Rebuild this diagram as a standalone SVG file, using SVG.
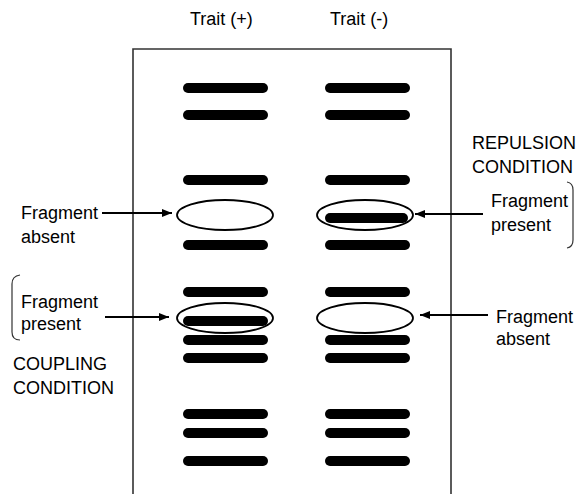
<svg xmlns="http://www.w3.org/2000/svg" width="579" height="494" viewBox="0 0 579 494">
<defs>
<style>
.t{font-family:"Liberation Sans",Arial,sans-serif;font-size:18px;fill:#000}
.band{fill:#000}
.ell{fill:none;stroke:#000;stroke-width:1.8}
.box{fill:none;stroke:#333;stroke-width:1.6}
.con{fill:none;stroke:#000;stroke-width:2}
.br{fill:none;stroke:#333;stroke-width:1.2}
</style>
<marker id="ah" viewBox="0 0 10 8" refX="10" refY="4" markerWidth="10" markerHeight="8" markerUnits="userSpaceOnUse" orient="auto">
<path d="M0,0 L10,4 L0,8 Z" fill="#000"/>
</marker>
</defs>
<rect width="579" height="494" fill="#fff"/>
<g id="gel">
<path class="box" d="M133,494 V49 H451 V494"/>
</g>
<g id="lane-plus">
<text class="t" x="190" y="25">Trait (+)</text>
<rect class="band" x="183" y="83" width="85" height="10" rx="5"/>
<rect class="band" x="183" y="110" width="85" height="10" rx="5"/>
<rect class="band" x="183" y="175" width="85" height="10" rx="5"/>
<rect class="band" x="183" y="240" width="85" height="10" rx="5"/>
<rect class="band" x="183" y="287" width="85" height="10" rx="5"/>
<rect class="band" x="183" y="316" width="85" height="10" rx="5"/>
<rect class="band" x="183" y="335" width="85" height="10" rx="5"/>
<rect class="band" x="183" y="353" width="85" height="10" rx="5"/>
<rect class="band" x="183" y="409" width="85" height="10" rx="5"/>
<rect class="band" x="183" y="428" width="85" height="10" rx="5"/>
<rect class="band" x="183" y="456" width="85" height="10" rx="5"/>
<ellipse class="ell" cx="225" cy="215" rx="48" ry="15"/>
<ellipse class="ell" cx="225" cy="318" rx="48" ry="15"/>
</g>
<g id="lane-minus">
<text class="t" x="330" y="25">Trait (-)</text>
<rect class="band" x="325" y="83" width="85" height="10" rx="5"/>
<rect class="band" x="325" y="110" width="85" height="10" rx="5"/>
<rect class="band" x="325" y="175" width="85" height="10" rx="5"/>
<rect class="band" x="325" y="213" width="83" height="10" rx="5"/>
<rect class="band" x="325" y="240" width="85" height="10" rx="5"/>
<rect class="band" x="325" y="287" width="85" height="10" rx="5"/>
<rect class="band" x="325" y="335" width="85" height="10" rx="5"/>
<rect class="band" x="325" y="353" width="85" height="10" rx="5"/>
<rect class="band" x="325" y="409" width="85" height="10" rx="5"/>
<rect class="band" x="325" y="428" width="85" height="10" rx="5"/>
<rect class="band" x="325" y="456" width="85" height="10" rx="5"/>
<ellipse class="ell" cx="365" cy="215" rx="48" ry="15"/>
<ellipse class="ell" cx="365" cy="318" rx="48" ry="15"/>
</g>
<g id="label-left-absent">
<text class="t" x="21" y="219">Fragment</text>
<text class="t" x="21" y="243">absent</text>
</g>
<g id="label-left-present">
<path class="br" d="M20,275 Q12,276 12,284 V332 Q12,340 20,340"/>
<text class="t" x="21" y="308">Fragment</text>
<text class="t" x="21" y="330">present</text>
</g>
<g id="label-coupling">
<text class="t" x="13" y="370">COUPLING</text>
<text class="t" x="13" y="394">CONDITION</text>
</g>
<g id="label-repulsion">
<text class="t" x="472" y="149">REPULSION</text>
<text class="t" x="472" y="173">CONDITION</text>
</g>
<g id="label-right-present">
<path class="br" d="M567,182 Q573,183 573,190 V240 Q573,247 567,248"/>
<text class="t" x="491" y="207">Fragment</text>
<text class="t" x="491" y="231">present</text>
</g>
<g id="label-right-absent">
<text class="t" x="496" y="323">Fragment</text>
<text class="t" x="496" y="345">absent</text>
</g>
<g id="connectors">
<line class="con" x1="102" y1="213" x2="172" y2="213" marker-end="url(#ah)"/>
<line class="con" x1="105" y1="317" x2="169" y2="317" marker-end="url(#ah)"/>
<line class="con" x1="483" y1="214" x2="415" y2="214" marker-end="url(#ah)"/>
<line class="con" x1="488" y1="315" x2="420" y2="315" marker-end="url(#ah)"/>
</g>
</svg>
